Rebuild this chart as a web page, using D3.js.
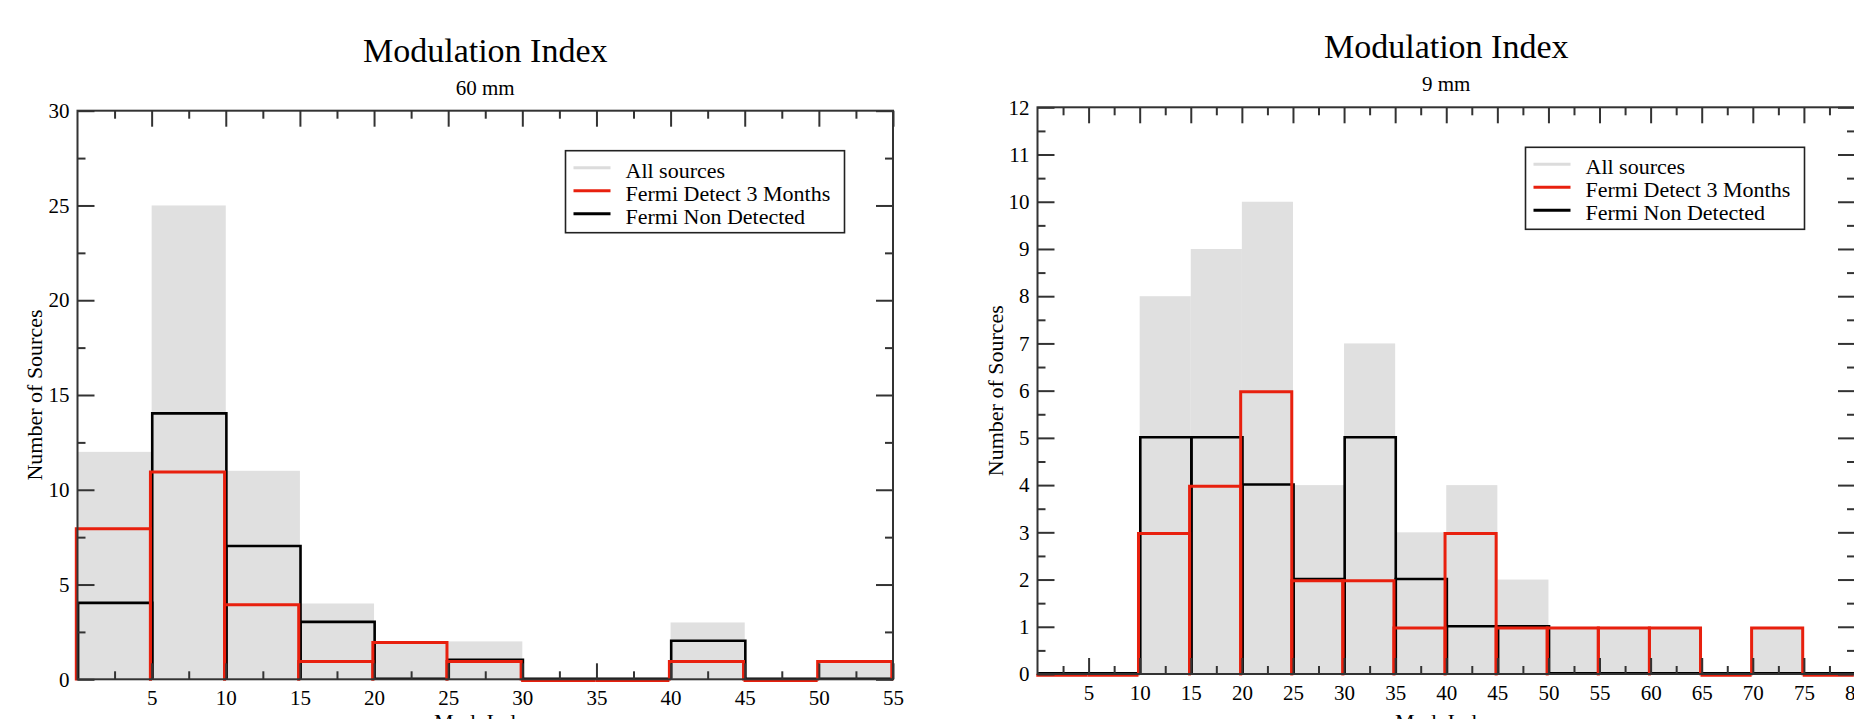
<!DOCTYPE html>
<html>
<head>
<meta charset="utf-8">
<script src="https://cdn.jsdelivr.net/npm/d3@7"></script>
<style>
  html, body { margin: 0; padding: 0; background: #fff; }
  svg { display: block; font-family: "Liberation Serif", "Times New Roman", serif; }
</style>
</head>
<body>
<svg id="chart" width="1854" height="719"></svg>
<script>
// 60 mm panel: bin start, counts per bin (bin width 5)
const bins60 = [0, 5, 10, 15, 20, 25, 30, 35, 40, 45, 50]
const all60 = [12, 25, 11, 4, 2, 2, 0, 0, 3, 0, 1]
const detected60 = [8, 11, 4, 1, 2, 1, 0, 0, 1, 0, 1]
const nonDetected60 = [4, 14, 7, 3, 0, 1, 0, 0, 2, 0, 0]
const xTicks60 = [5, 10, 15, 20, 25, 30, 35, 40, 45, 50, 55]
const xMinor60 = [2.5, 7.5, 12.5, 17.5, 22.5, 27.5, 32.5, 37.5, 42.5, 47.5, 52.5]
const yTicks60 = [0, 5, 10, 15, 20, 25, 30]
const yMinor60 = [2.5, 7.5, 12.5, 17.5, 22.5, 27.5]

// 9 mm panel
const bins9 = [0, 5, 10, 15, 20, 25, 30, 35, 40, 45, 50, 55, 60, 65, 70, 75]
const all9 = [0, 0, 8, 9, 10, 4, 7, 3, 4, 2, 1, 1, 1, 0, 1, 0]
const detected9 = [0, 0, 3, 4, 6, 2, 2, 1, 3, 1, 1, 1, 1, 0, 1, 0]
const nonDetected9 = [0, 0, 5, 5, 4, 2, 5, 2, 1, 1, 0, 0, 0, 0, 0, 0]
const xTicks9 = [5, 10, 15, 20, 25, 30, 35, 40, 45, 50, 55, 60, 65, 70, 75, 80]
const xMinor9 = [2.5, 7.5, 12.5, 17.5, 22.5, 27.5, 32.5, 37.5, 42.5, 47.5, 52.5, 57.5, 62.5, 67.5, 72.5, 77.5]
const yTicks9 = [0, 1, 2, 3, 4, 5, 6, 7, 8, 9, 10, 11, 12]
const yMinor9 = [0.5, 1.5, 2.5, 3.5, 4.5, 5.5, 6.5, 7.5, 8.5, 9.5, 10.5, 11.5]

const legendNames = ['All sources', 'Fermi Detect 3 Months', 'Fermi Non Detected']

const grayFill = '#e0e0e0'
const red = '#e8200e'
const axisColor = '#333'

const svg = d3.select('#chart')

function panel(cfg) {
  const x = d3.scaleLinear().domain(cfg.xDomain).range([cfg.left, cfg.right])
  const y = d3.scaleLinear().domain(cfg.yDomain).range([cfg.bottom, cfg.top])
  const cx = (cfg.left + cfg.right) / 2
  const g = svg.append('g')

  // titles
  g.append('text')
    .attr('x', cx).attr('y', cfg.top - 49)
    .attr('text-anchor', 'middle')
    .attr('font-size', 34)
    .text('Modulation Index')
  g.append('text')
    .attr('x', cx).attr('y', cfg.top - 16)
    .attr('text-anchor', 'middle')
    .attr('font-size', 21)
    .text(cfg.subtitle)

  // gray histogram of all sources
  g.append('g')
    .selectAll('rect')
    .data(cfg.bins)
    .join('rect')
    .attr('x', (d) => x(d))
    .attr('width', (d) => x(d + 5) - x(d))
    .attr('y', (d, i) => y(cfg.all[i]))
    .attr('height', (d, i) => y(0) - y(cfg.all[i]))
    .attr('fill', grayFill)

  // outlined bars, black first then red (red sits a hair lower-left, as in the plot)
  function outline(values, color, width, shift) {
    g.append('g')
      .attr('transform', `translate(${shift[0]},${shift[1]})`)
      .selectAll('path')
      .data(cfg.bins)
      .join('path')
      .attr('d', (d, i) => `M${x(d)},${y(0)}V${y(values[i])}H${x(d + 5)}V${y(0)}`)
      .attr('fill', 'none')
      .attr('stroke', color)
      .attr('stroke-width', width)
  }
  outline(cfg.nonDetected, '#000', 2.6, [0.6, -0.6])
  outline(cfg.detected, red, 3, [-1.2, 1.2])

  // axes
  function style(a) {
    a.attr('font-family', null).attr('font-size', 21)
    a.select('.domain').remove()
    a.selectAll('line').attr('stroke', axisColor).attr('stroke-width', 2)
    a.selectAll('text').attr('fill', '#000')
  }
  const bottom = g.append('g').attr('transform', `translate(0,${cfg.bottom})`)
  bottom.append('g').call(d3.axisBottom(x).tickValues(cfg.xTicks).tickSize(-16).tickPadding(11)).call(style)
  bottom.append('g').call(d3.axisBottom(x).tickValues(cfg.xMinor).tickSize(-8).tickFormat('')).call(style)

  const top = g.append('g').attr('transform', `translate(0,${cfg.top})`)
  top.append('g').call(d3.axisTop(x).tickValues(cfg.xTicks).tickSize(-16).tickFormat('')).call(style)
  top.append('g').call(d3.axisTop(x).tickValues(cfg.xMinor).tickSize(-8).tickFormat('')).call(style)

  const leftAx = g.append('g').attr('transform', `translate(${cfg.left},0)`)
  leftAx.append('g').call(d3.axisLeft(y).tickValues(cfg.yTicks).tickSize(-17).tickPadding(8)).call(style)
  leftAx.append('g').call(d3.axisLeft(y).tickValues(cfg.yMinor).tickSize(-8).tickFormat('')).call(style)

  const rightAx = g.append('g').attr('transform', `translate(${cfg.right},0)`)
  rightAx.append('g').call(d3.axisRight(y).tickValues(cfg.yTicks).tickSize(-17).tickFormat('')).call(style)
  rightAx.append('g').call(d3.axisRight(y).tickValues(cfg.yMinor).tickSize(-8).tickFormat('')).call(style)

  g.append('rect')
    .attr('x', cfg.left).attr('y', cfg.top)
    .attr('width', cfg.right - cfg.left).attr('height', cfg.bottom - cfg.top)
    .attr('fill', 'none')
    .attr('stroke', axisColor)
    .attr('stroke-width', 2)

  // axis labels
  g.append('text')
    .attr('transform', `translate(${cfg.yLabelX},${(cfg.top + cfg.bottom) / 2}) rotate(-90)`)
    .attr('text-anchor', 'middle')
    .attr('font-size', 22)
    .text('Number of Sources')
  g.append('text')
    .attr('x', cx).attr('y', 729)
    .attr('text-anchor', 'middle')
    .attr('font-size', 22)
    .text('Mod. Index')

  // legend
  const lg = g.append('g').attr('transform', `translate(${cfg.left + 488},${cfg.top + 40})`)
  lg.append('rect')
    .attr('width', 279).attr('height', 82)
    .attr('fill', '#fff')
    .attr('stroke', '#222')
    .attr('stroke-width', 1.6)
  const legendColors = ['#dcdcdc', red, '#000']
  const row = lg.selectAll('g.row')
    .data(legendNames)
    .join('g')
    .attr('class', 'row')
    .attr('transform', (d, i) => `translate(0,${27 + i * 23})`)
  row.append('line')
    .attr('x1', 8).attr('x2', 45)
    .attr('y1', -10).attr('y2', -10)
    .attr('stroke', (d, i) => legendColors[i])
    .attr('stroke-width', 3)
  row.append('text')
    .attr('x', 60)
    .attr('font-size', 22)
    .text((d) => d)
}

panel({
  left: 77.5, right: 893, top: 110.7, bottom: 679.3,
  xDomain: [0, 55], yDomain: [0, 30],
  bins: bins60, all: all60, detected: detected60, nonDetected: nonDetected60,
  xTicks: xTicks60, xMinor: xMinor60, yTicks: yTicks60, yMinor: yMinor60,
  subtitle: '60 mm', yLabelX: 42
})

panel({
  left: 1037.5, right: 1855, top: 107.3, bottom: 674,
  xDomain: [0, 80], yDomain: [0, 12],
  bins: bins9, all: all9, detected: detected9, nonDetected: nonDetected9,
  xTicks: xTicks9, xMinor: xMinor9, yTicks: yTicks9, yMinor: yMinor9,
  subtitle: '9 mm', yLabelX: 1003
})
</script>
</body>
</html>
